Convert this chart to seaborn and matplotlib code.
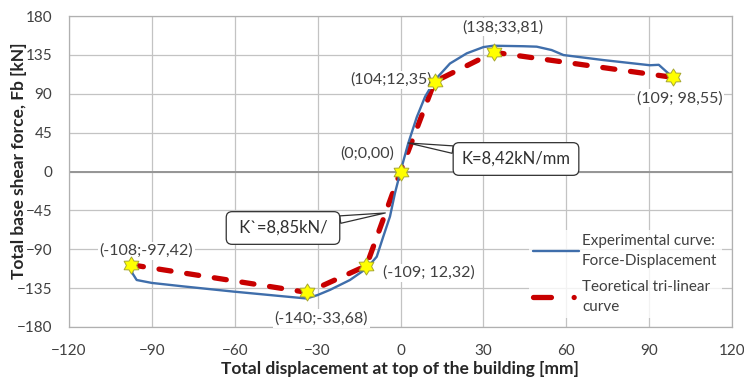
import numpy as np
import pandas as pd
import matplotlib
matplotlib.use("Agg")
import matplotlib.pyplot as plt
from matplotlib.path import Path
from matplotlib.lines import Line2D
import seaborn as sns

# Experimental force-displacement curve (displacement in mm, force in kN)
exp_disp = [-97.4, -97.0, -95.5, -90.0, -78.6, -60.5, -42.4, -34.0, -30.0, -25.5,
            -18.3, -12.2, -8.6, -6.2, -3.8, -2.0, 0.0, 2.8, 5.9, 8.9, 12.5, 17.9,
            24.0, 30.0, 33.6, 44.5, 49.3, 54.7, 59.0, 73.4, 90.3, 93.5, 97.6]
exp_force = [-112, -118, -125.6, -129, -133, -139, -144.5, -147, -143, -137,
             -125.6, -112, -98.6, -75, -52, -25, 0, 32.6, 63, 86.6, 106, 125,
             136.8, 144, 145.6, 145, 144.5, 140.6, 134.8, 129, 123, 123.5, 111.7]

# Theoretical tri-linear curve: characteristic points
tri_disp = [-97.42, -33.68, -12.32, 0.0, 12.35, 33.81, 98.55]
tri_force = [-108, -140, -109, 0, 104, 138, 109]
tri_labels = ["(-108;-97,42)", "(-140;-33,68)", "(-109; 12,32)", "(0;0,00)",
              "(104;12,35)", "(138;33,81)", "(109; 98,55)"]

x_ticks = [-120, -90, -60, -30, 0, 30, 60, 90, 120]
y_ticks = [-180, -135, -90, -45, 0, 45, 90, 135, 180]

exp_df = pd.DataFrame({"disp": exp_disp, "force": exp_force})
tri_df = pd.DataFrame({"disp": tri_disp, "force": tri_force})

sns.set_theme(style="white")
plt.rcParams["font.family"] = ["Lato", "DejaVu Sans"]

W, H = 744, 380
fig = plt.figure(figsize=(W / 100, H / 100), dpi=100)
ax = fig.add_axes([69 / W, 1 - 327 / H, 663 / W, 311 / H])

grid_c = "#c3c3c3"
for v in x_ticks:
    ax.axvline(v, color=grid_c, lw=0.9, zorder=0)
for v in y_ticks:
    ax.axhline(v, color=grid_c, lw=0.9, zorder=0)
ax.axhline(0, color="#959595", lw=1.4, zorder=0.5)

blue = "#3f6eab"
red = "#c80000"

sns.lineplot(data=exp_df, x="disp", y="force", sort=False, estimator=None,
             color=blue, lw=1.7, ax=ax, zorder=3)
sns.lineplot(data=tri_df, x="disp", y="force", sort=False, estimator=None,
             color=red, lw=3.8, ax=ax, zorder=2,
             linestyle=(0, (2.3, 3.0)), dash_capstyle="round")

# six-pointed star marker
ang = np.deg2rad(np.arange(12) * 30 + 90)
rad = np.where(np.arange(12) % 2 == 0, 1.0, 0.6)
star_verts = np.column_stack([rad * np.cos(ang), rad * np.sin(ang)])
star_verts = np.vstack([star_verts, star_verts[:1]])
star = Path(star_verts, closed=True)

sns.scatterplot(data=tri_df, x="disp", y="force", marker=star, s=150,
                color="#ffff00", edgecolor="#a8a830", linewidth=0.7,
                ax=ax, zorder=5)

ax.set_xlim(-120, 120)
ax.set_ylim(-180, 180)
ax.set_xticks(x_ticks)
ax.set_yticks(y_ticks)
ax.tick_params(axis="x", length=0, pad=12, labelsize=11, labelcolor="#404040")
ax.tick_params(axis="y", length=0, pad=12, labelsize=11, labelcolor="#404040")
for s in ax.spines.values():
    s.set_color("#b0b0b0")
    s.set_linewidth(0.9)
ax.set_xlabel("")
ax.set_ylabel("")

fig.text(400 / W, 1 - 369 / H, "Total displacement at top of the building [mm]",
         ha="center", va="center", fontsize=12.5, fontweight="bold", color="#262626")
fig.text(19 / W, 1 - 161 / H, "Total base shear force, Fb [kN]",
         ha="center", va="center", rotation=90, fontsize=12.5,
         fontweight="bold", color="#262626")

# point labels (offsets in pixels from each star)
label_offsets = [(15, 14), (14, -26), (62, -7), (-33, 18), (-44, 2), (9, 25), (7, -21)]
lbl_box = dict(boxstyle="square,pad=0.12", fc="white", ec="none")
for xv, yv, txt, off in zip(tri_disp, tri_force, tri_labels, label_offsets):
    ax.annotate(txt, (xv, yv), xytext=off, textcoords="offset pixels",
                ha="center", va="center", fontsize=11.5, color="#404040",
                bbox=lbl_box, zorder=4)

# stiffness callouts
callout_box = dict(boxstyle="round,pad=0.5,rounding_size=0.35", fc="white",
                   ec="#303030", lw=0.9)
wedge = dict(arrowstyle="wedge,tail_width=0.45,shrink_factor=0.5",
             fc="white", ec="#303030", lw=0.9, shrinkA=0, shrinkB=0)
ax.annotate("K=8,42kN/mm", xy=(2.8, 33), xytext=(516, H - 159),
            textcoords="figure pixels", ha="center", va="center", fontsize=12,
            color="#303030", bbox=callout_box, zorder=6, arrowprops=wedge)
ax.annotate(" K`=8,85kN/ ", xy=(-5.5, -48), xytext=(283, H - 228),
            textcoords="figure pixels", ha="center", va="center", fontsize=12,
            color="#303030", bbox=callout_box, zorder=6, arrowprops=wedge)

# legend keys: solid blue line, long red dash followed by a round dot
handles = [Line2D([], [], color=blue, lw=1.7),
           Line2D([], [], color=red, lw=3.8, linestyle=(0, (3.4, 4.3, 0.01, 10)),
                  dash_capstyle="round")]
leg = ax.legend(handles, ["Experimental curve:\nForce-Displacement",
                          "Teoretical tri-linear\ncurve"],
                loc="upper left", bbox_to_anchor=(521 / W, 1 - 222 / H),
                bbox_transform=fig.transFigure, frameon=True, fontsize=11,
                handlelength=3.0, handletextpad=0.2, labelspacing=0.75,
                borderpad=0.3, labelcolor="#404040")
for t in leg.get_texts():
    t.set_linespacing(1.55)
leg.get_frame().set_facecolor("white")
leg.get_frame().set_edgecolor("none")
leg.set_zorder(7)

fig.savefig("out.png", dpi=100)
